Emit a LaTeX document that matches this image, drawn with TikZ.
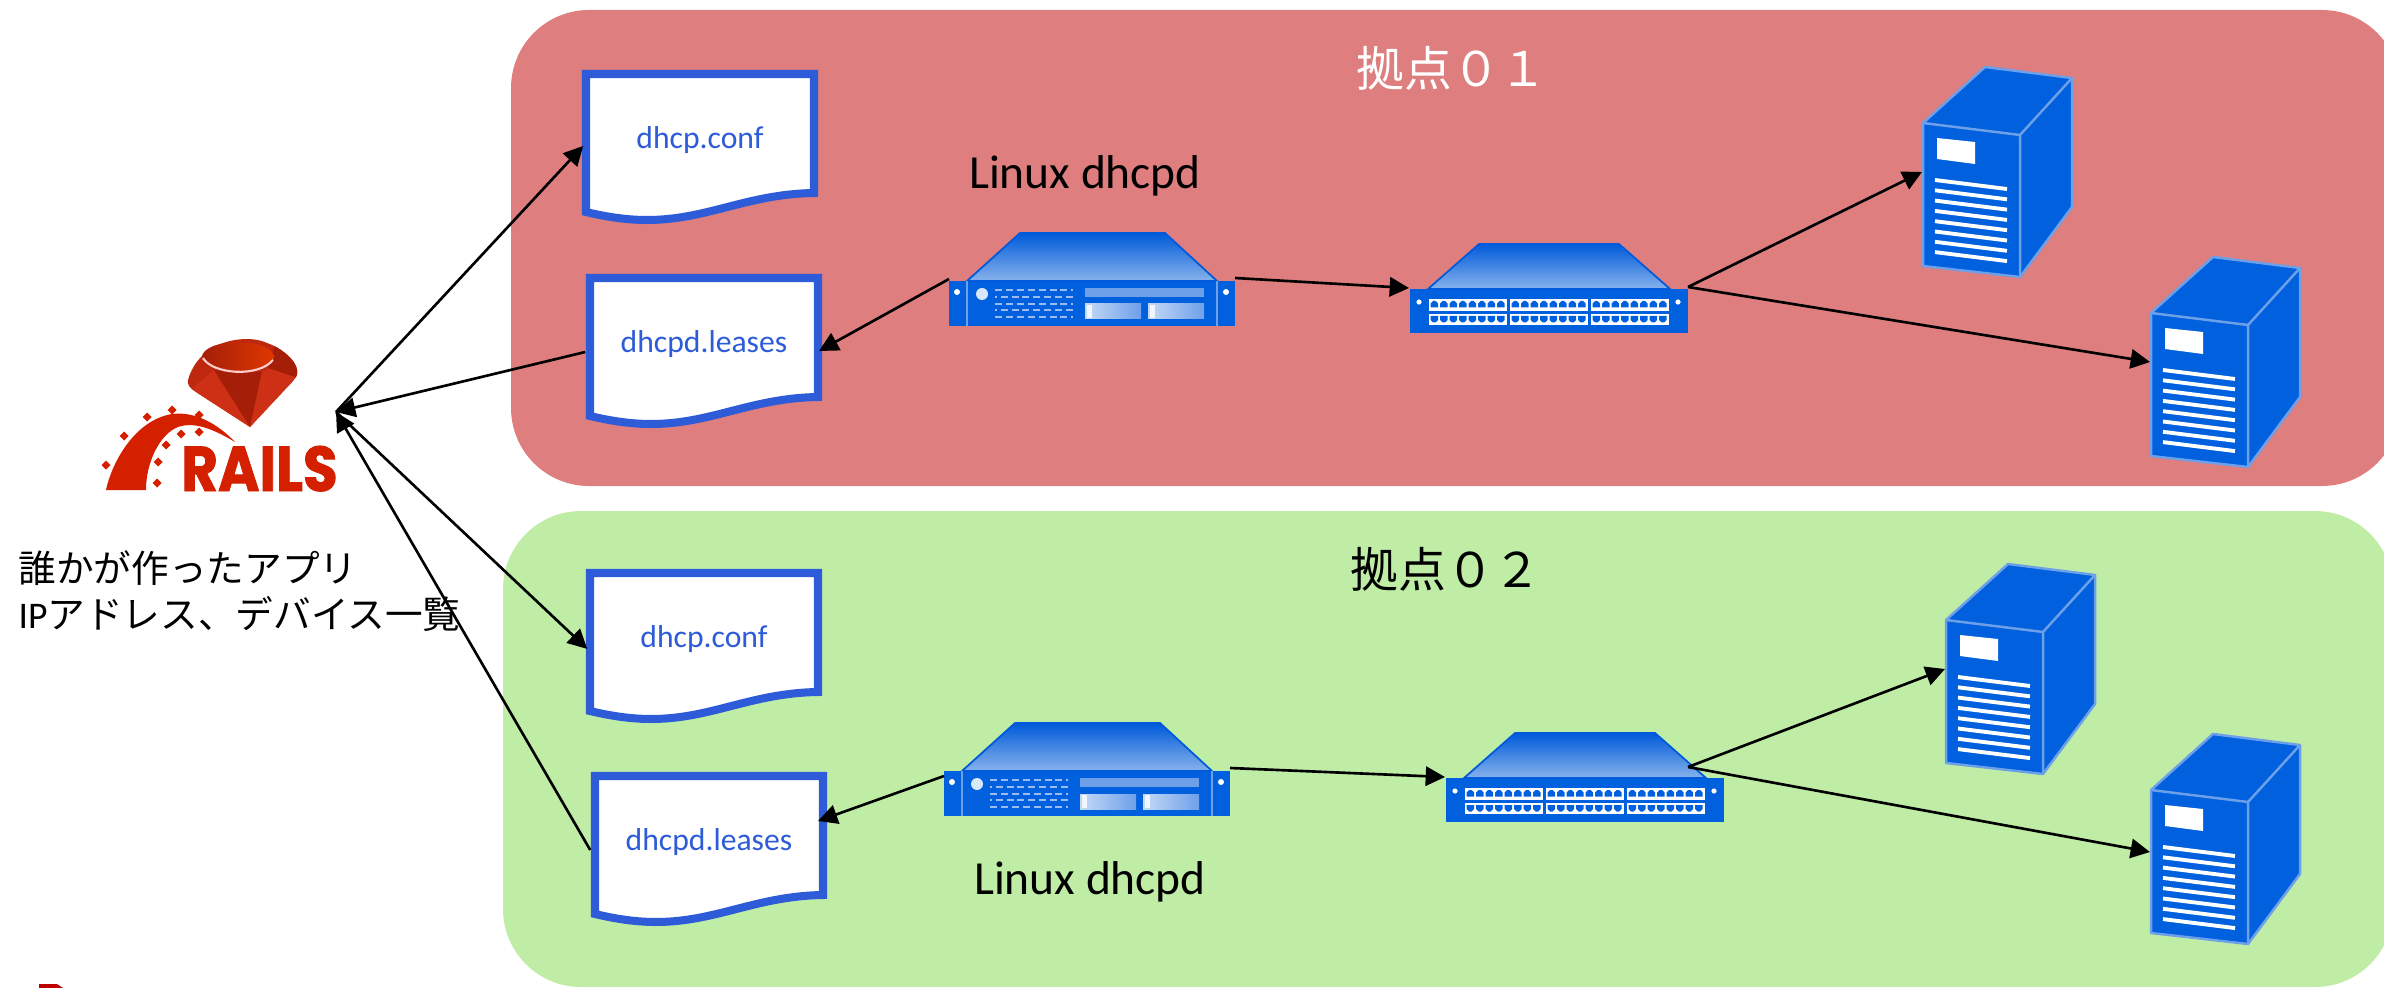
\documentclass[tikz,border=0pt]{standalone}
\usepackage{fontspec}
\setmainfont{Carlito}
\newfontfamily\cjk{Noto Sans CJK JP}
\newfontfamily\railsfont{Poppins}[BoldFeatures={FakeBold=1.5}]
\usetikzlibrary{arrows.meta}

\definecolor{siteone}{RGB}{222,126,126}
\definecolor{sitetwo}{RGB}{191,237,166}
\definecolor{docblue}{RGB}{46,92,216}
\definecolor{rackblue}{RGB}{0,96,221}
\definecolor{roofdark}{RGB}{0,90,218}
\definecolor{rooflight}{RGB}{135,178,236}
\definecolor{panelblue}{RGB}{110,160,234}
\definecolor{railsred}{RGB}{213,32,0}
\definecolor{rubybase}{RGB}{190,40,14}
\definecolor{rubylight}{RGB}{205,48,20}
\definecolor{rubydark}{RGB}{165,30,8}

\tikzset{
    docline/.style={draw=docblue, line width=2.28pt, fill=white, miter limit=10},
    docnode/.style={minimum width=2.36cm, minimum height=1.56cm, inner sep=0pt, text=docblue,
        font=\fontsize{9}{11}\selectfont},
    conn/.style={black, line width=0.75pt, -{Triangle[length=5.5pt,width=5.5pt]}},
    linuxlabel/.style={font=\fontsize{13.5}{16}\selectfont},
    sitelabel/.style={font=\fontsize{13.6}{16}\selectfont\cjk},
    pics/rackunit/.style={code={
        \fill[rackblue] (0,48) rectangle (286,93);
        \draw[roofdark, line width=0.5pt, top color=roofdark, bottom color=rooflight]
            (18,48) -- (71,0) -- (216,0) -- (268,48) -- cycle;
        \draw[panelblue, line width=0.3pt] (18,48) -- (18,93) (268,48) -- (268,93);
        \fill[white] (8,59) circle[radius=3];
        \fill[white] (277,59) circle[radius=3];
        \fill[white!85!rackblue] (33,61) circle[radius=6];
        % vents
        \foreach \row/\phase in {57/0,64/1.5,71/0,77/1.5,84/0}{
            \draw[panelblue!70!white, line width=0.8pt, dash pattern=on 2pt off 1.1pt, dash phase=\phase pt]
                (46,\row) -- (124,\row);
        }
        \fill[panelblue] (136,55) rectangle (255,64);
        \foreach \bay in {136,199}{
            \shade[left color=panelblue!40!white, right color=panelblue] (\bay,71) rectangle +(56,15);
            \fill[white!90!panelblue] (\bay+2,72) rectangle +(5,13);
        }
        \coordinate (-left) at (0,46);
        \coordinate (-right) at (286,45);
    }},
    pics/switchunit/.style={code={
        \fill[rackblue] (0,45) rectangle (278,89);
        \draw[roofdark, line width=0.5pt, top color=roofdark, bottom color=rooflight]
            (18,45) -- (69,0) -- (209,0) -- (260,45) -- cycle;
        \fill[white] (9,58) circle[radius=2.6];
        \fill[white] (268,58) circle[radius=2.6];
        % ports
        \foreach \col in {19,100,181}{
            \fill[white] (\col,55) rectangle +(78,12);
            \fill[white] (\col,70) rectangle +(78,11);
            \foreach \i in {0,...,7}{
                \fill[rackblue] ({\col+1.6+\i*9.5},63.5) -- ++(0,-4) -- ++(2.5,-2.5) -- ++(2.5,0)
                    -- ++(2.5,2.5) -- ++(0,4) -- cycle;
                \fill[rackblue] ({\col+1.6+\i*9.5},72) -- ++(0,4) -- ++(2.5,2.5) -- ++(2.5,0)
                    -- ++(2.5,-2.5) -- ++(0,-4) -- cycle;
            }
        }
        \coordinate (-left) at (-1,44);
        \coordinate (-right) at (278,43);
    }},
    pics/towerunit/.style={code={
        \draw[panelblue, line width=0.7pt, fill=rackblue, line join=round]
            (0,56) -- (62,0) -- (149,11) -- (149,140) -- (97,210) -- (0,199) -- cycle;
        \draw[panelblue, line width=0.7pt] (0,56) -- (97,68) -- (149,11) (97,68) -- (97,210);
        \fill[white] (14,71) -- (52,75) -- (52,97) -- (14,92) -- cycle;
        \foreach \i in {0,...,7}{
            \draw[white, line width=1.1pt] (12,{113+\i*10.3}) -- (84,{122+\i*10.3});
        }
        \coordinate (-port) at (-1,105);
    }},
}

\begin{document}
\begin{tikzpicture}[x=0.01cm, y=-0.01cm]
    \clip (0,0) rectangle (2384,988);

    % sites
    \fill[siteone, rounded corners=0.78cm] (511,10) rectangle (2400,486);
    \fill[sitetwo, rounded corners=0.78cm] (503,511) rectangle (2393,987);
    \node[sitelabel, text=white] (siteonelabel) at (1452,68) {拠点０１};
    \node[sitelabel] (sitetwolabel) at (1446,569) {拠点０２};

    % rails logo
    \fill[railsred] (106,490) .. controls (112,462) and (135,420) .. (172,414)
        .. controls (195,411) and (218,424) .. (235,442)
        .. controls (215,430) and (195,421) .. (178,427)
        .. controls (160,434) and (146,462) .. (146,490) -- cycle;
    \foreach \px/\py in {106/465,124/436,147/417,172/410,199/415,199/432,181/434,166/445,158/462,157/483}{
        \fill[railsred] (\px,\py) ++(-4.5,0) -- ++(4.5,-4.5) -- ++(4.5,4.5) -- ++(-4.5,4.5) -- cycle;
    }
    \node[anchor=base, text=railsred, inner sep=0pt, xscale=0.89] (railstext) at (259.5,491)
        {\fontsize{18}{20}\selectfont\railsfont\bfseries RAILS};
    % ruby
    \begin{scope}
        \clip (188,380) .. controls (192,366) and (200,356) .. (210,350)
            .. controls (222,340) and (250,335) .. (267,343)
            .. controls (280,347) and (296,360) .. (297,370)
            .. controls (298,376) and (295,378) .. (292,382) -- (250,427) -- (196,392)
            .. controls (190,388) and (187,385) .. (188,380) -- cycle;
        \fill[rubybase] (180,330) rectangle (300,430);
        \fill[rubylight] (188,392) -- (214,370) -- (250,427) -- cycle;
        \fill[rubydark] (214,370) -- (262,372) -- (250,427) -- cycle;
        \fill[rubylight] (262,372) -- (298,350) -- (298,385) -- (250,427) -- cycle;
        \fill[rubydark] (275,345) -- (300,350) -- (298,378) -- (268,368) -- cycle;
    \end{scope}
    \shade[left color=rubydark, right color=orange!25!railsred] (238,357) ellipse[x radius=36, y radius=15];
    \draw[white!80!red, line width=0.6pt] (203,358) .. controls (212,374) and (258,378) .. (273,360);

    % stray mark at the lower edge
    \fill[red!75!black] (39,984) -- (57,984) -- (63,988) -- (39,988) -- cycle;

    \node[anchor=west, align=left, inner sep=0pt, font=\fontsize{10.7}{13.1}\selectfont] (appnote) at (18,591)
        {{\cjk 誰かが作ったアプリ}\\IP{\cjk アドレス、デバイス一覧}};
    \coordinate (railshub) at (336,412);

    % files
    \foreach \name/\x/\y/\txt in {conf1/582/70/dhcp.conf, leases1/586/274/dhcpd.leases,
                                  conf2/586/569/dhcp.conf, leases2/591/772/dhcpd.leases}{
        \draw[docline, shift={(\x,\y)}] (4,4) -- (232,4) -- (232,123)
            .. controls (165,124) and (125,150) .. (65,150) .. controls (45,150) and (25,147) .. (4,142) -- cycle;
        \node[docnode] (\name) at ({\x+118},{\y+78}) {\raisebox{6.2pt}{\txt}};
    }
    \coordinate (leases1in) at (819,351);
    \coordinate (leases2in) at (818,821);

    % servers and switches
    \pic (server1) at (949,233) {rackunit};
    \pic (server2) at (944,723) {rackunit};
    \coordinate (server2left) at (944,776);
    \pic (switch1) at (1410,244) {switchunit};
    \pic (switch2) at (1446,733) {switchunit};
    \coordinate (switch2out) at (1688,767);
    \pic (tower1) at (1923,67) {towerunit};
    \pic (tower2) at (2151,257) {towerunit};
    \pic (tower3) at (1946,564) {towerunit};
    \pic (tower4) at (2151,734) {towerunit};
    \coordinate (tower4in) at (2150,852);

    \node[linuxlabel] (linuxone) at (1085,176) {Linux dhcpd};
    \node[linuxlabel] (linuxtwo) at (1090,882) {Linux dhcpd};

    % connectors
    \draw[conn, shorten >=-0.8pt] (railshub) -- (conf1.west);
    \draw[conn] (leases1.west) -- (railshub);
    \draw[conn, shorten >=-0.8pt] (railshub) -- (conf2.west);
    \draw[conn] (leases2.west) -- (railshub);
    \draw[conn] (server1-left) -- (leases1in);
    \draw[conn] (server1-right) -- (switch1-left);
    \draw[conn] (switch1-right) -- (tower1-port);
    \draw[conn] (switch1-right) -- (tower2-port);
    \draw[conn] (server2left) -- (leases2in);
    \draw[conn] (server2-right) -- (switch2-left);
    \draw[conn] (switch2out) -- (tower3-port);
    \draw[conn] (switch2out) -- (tower4in);
\end{tikzpicture}
\end{document}
